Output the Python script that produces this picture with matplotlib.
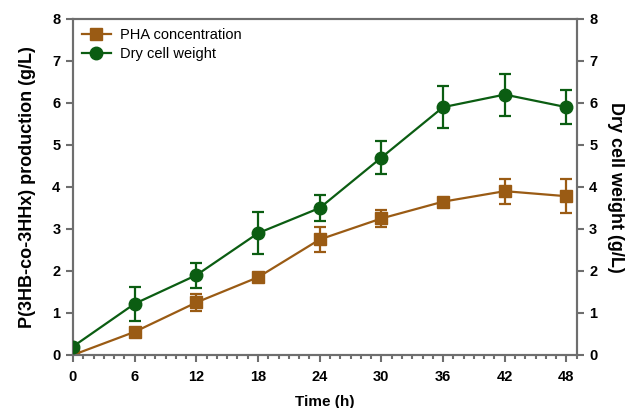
import matplotlib.pyplot as plt
from matplotlib.lines import Line2D
from matplotlib.ticker import MultipleLocator

plt.rcParams['font.family'] = ['Liberation Sans', 'DejaVu Sans']

time_h = [0, 6, 12, 18, 24, 30, 36, 42, 48]
pha = [0.0, 0.55, 1.25, 1.85, 2.75, 3.25, 3.65, 3.9, 3.78]
pha_err = [0.05, 0.08, 0.2, 0.06, 0.3, 0.2, 0.06, 0.3, 0.4]
dcw = [0.2, 1.22, 1.9, 2.9, 3.5, 4.7, 5.9, 6.2, 5.9]
dcw_err = [0.05, 0.4, 0.3, 0.5, 0.3, 0.4, 0.5, 0.5, 0.4]

brown = '#9a5b14'
green = '#0b5d12'
axcol = '#6e6e6e'

fig = plt.figure(figsize=(6.32, 4.08), dpi=100)
ax = fig.add_axes([0.1155, 0.13, 0.797, 0.8235])
ax2 = ax.twinx()

ax.errorbar(time_h, pha, yerr=pha_err, color=brown, marker='s', ms=9, lw=1.6,
            capsize=4, capthick=1.6, elinewidth=1.6, zorder=3)
ax2.errorbar(time_h, dcw, yerr=dcw_err, color=green, marker='o', ms=9, lw=1.6,
             capsize=4, capthick=1.6, elinewidth=1.6, zorder=3)

for a in (ax, ax2):
    a.set_ylim(0, 8)
    a.set_xlim(0, 49)
    for s in a.spines.values():
        s.set_color(axcol)
        s.set_linewidth(1.5)
    a.tick_params(which='both', color=axcol, width=1.5, direction='out', labelsize=10.5)
    a.tick_params(which='major', length=5, pad=4)
    a.tick_params(which='minor', length=3)
    for lab in a.get_yticklabels():
        lab.set_fontweight('bold')

ax.set_xticks(time_h)
ax.xaxis.set_minor_locator(MultipleLocator(1))
ax.tick_params(axis='x', which='major', pad=6)
for lab in ax.get_xticklabels():
    lab.set_fontweight('bold')

ax.set_xlabel('Time (h)', fontsize=11, fontweight='bold', labelpad=8)
ax.set_ylabel('P(3HB-co-3HHx) production (g/L)', fontsize=13, fontweight='bold', labelpad=12)
ax2.set_ylabel('Dry cell weight (g/L)', fontsize=13, fontweight='bold', rotation=270, labelpad=19)

handles = [
    Line2D([], [], color=brown, marker='s', ms=9, lw=1.6),
    Line2D([], [], color=green, marker='o', ms=9, lw=1.6),
]
ax.legend(handles, ['PHA concentration', 'Dry cell weight'], loc='upper left',
          frameon=False, fontsize=10.5, handlelength=2.0, handletextpad=0.6,
          borderaxespad=0.2, labelspacing=0.35)

fig.savefig('out.png', dpi=100)
